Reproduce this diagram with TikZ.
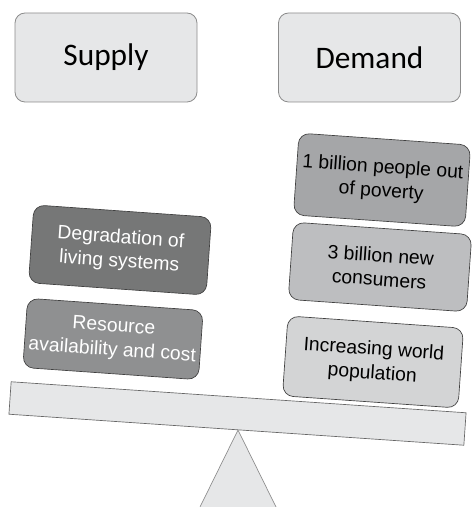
\documentclass[tikz,border=0pt]{standalone}
\usepackage{fontspec}
\setmainfont{Liberation Sans}
\newfontfamily\calib{Carlito}
\definecolor{lightbox}{HTML}{E6E7E8}
\definecolor{boxline}{HTML}{8C8C8C}
\definecolor{degfill}{HTML}{767777}
\definecolor{resfill}{HTML}{8F9091}
\definecolor{povfill}{HTML}{A5A6A8}
\definecolor{confill}{HTML}{BDBEC0}
\definecolor{popfill}{HTML}{D3D4D5}
\begin{document}
\begin{tikzpicture}[x=0.75pt,y=0.75pt,
  headbox/.style={draw=boxline, line width=0.6pt, fill=lightbox, rounded corners=7.5pt,
    minimum width=136.5pt, minimum height=66.75pt, font=\calib\fontsize{23.5}{28}\selectfont},
  tiltbox/.style={draw=black!75, line width=0.5pt, rounded corners=8pt, rotate=-4, align=center,
    inner sep=0pt, font=\fontsize{14.5}{18}\selectfont},
  beam/.style={draw=black!60, line width=0.5pt, fill=lightbox, rotate=-3.9,
    minimum width=342pt, minimum height=24.4pt, inner sep=0pt},
  fulcrum/.style={draw=black!45, line width=0.5pt, fill=lightbox}]
\useasboundingbox (0,0) rectangle (473,507);
% header boxes
\node[headbox] (supply) at (106,449.5) {Supply};
\node[headbox] (demand) at (369.5,449.5) {Demand};
% fulcrum and beam
\coordinate (apex) at (238,77);
\coordinate (bl) at (200,0);
\coordinate (br) at (276,0);
\draw[fulcrum] (bl) -- (apex) -- (br);
\node[beam] (lever) at (237.5,93.5) {};
% supply side
\node[tiltbox, fill=resfill, text=white, minimum width=132pt, minimum height=52pt] (res) at (113,168)
  {Resource\\availability and cost};
\node[tiltbox, fill=degfill, text=white, minimum width=133.5pt, minimum height=58.5pt] (deg) at (120,257)
  {Degradation of\\living systems};
% demand side
\node[tiltbox, fill=popfill, text=black, minimum width=132pt, minimum height=60pt] (pop) at (373,145)
  {Increasing world\\population};
\node[tiltbox, fill=confill, text=black, minimum width=134pt, minimum height=58pt] (con) at (380,240)
  {3 billion new\\consumers};
\node[tiltbox, fill=povfill, text=black, minimum width=129pt, minimum height=61.5pt] (pov) at (382,327)
  {1 billion people out\\of poverty};
\end{tikzpicture}
\end{document}
